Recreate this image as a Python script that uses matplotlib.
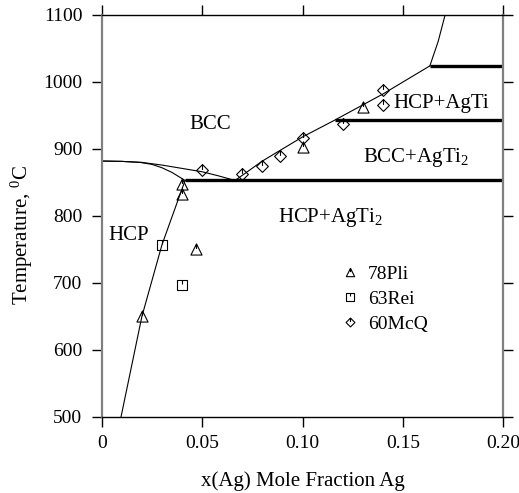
import matplotlib
matplotlib.use("Agg")
import matplotlib.pyplot as plt
from matplotlib.path import Path
import numpy as np

plt.rcParams['font.family'] = ['Liberation Serif', 'DejaVu Serif']
plt.rcParams['mathtext.fontset'] = 'custom'
plt.rcParams['mathtext.rm'] = 'Liberation Serif'
plt.rcParams['mathtext.it'] = 'Liberation Serif:italic'

# ---- phase boundaries ----
hcp_bcc_upper_x = [0.0, 0.010, 0.020, 0.030, 0.040, 0.050, 0.058, 0.0664]
hcp_bcc_upper_t = [882, 881.5, 880, 876, 871, 866, 860, 853]
hcp_bcc_lower_x = [0.0, 0.010, 0.019, 0.025, 0.030, 0.035, 0.0415]
hcp_bcc_lower_t = [882, 881.5, 880, 877, 872, 865, 853]
hcp_solvus_x = [0.0415, 0.030, 0.020, 0.0096]
hcp_solvus_t = [853, 757, 650, 500]
bcc_right_x = [0.0664, 0.080, 0.100, 0.116, 0.140, 0.1634]
bcc_right_t = [853, 882, 918, 943, 982, 1024]
steep_x = [0.1634, 0.1675, 0.171]
steep_t = [1024, 1060, 1100]
eutectoid_x = [0.0415, 0.20]
eutectoid_t = [853, 853]
mid_x = [0.116, 0.20]
mid_t = [943, 943]
upper_x = [0.1634, 0.20]
upper_t = [1024, 1024]

# ---- experimental data ----
pli_x = [0.020, 0.040, 0.040, 0.047, 0.100, 0.130]
pli_t = [650, 833, 848, 750, 903, 963]
rei_x = [0.030, 0.040]
rei_t = [757, 697]
mcq_x = [0.050, 0.070, 0.080, 0.089, 0.100, 0.120, 0.140, 0.140]
mcq_t = [868, 863, 875, 890, 916, 938, 965, 988]

xticks = [0, 0.05, 0.10, 0.15, 0.20]
xticklabels = ['0', '0.05', '0.10', '0.15', '0.20']
yticks = [500, 600, 700, 800, 900, 1000, 1100]

# markers with small tick from top vertex
tri = Path([(0, 1), (-1, -1), (1, -1), (0, 1), (0, 1), (0, 0.1)],
           [Path.MOVETO, Path.LINETO, Path.LINETO, Path.CLOSEPOLY, Path.MOVETO, Path.LINETO])
sq = Path([(-1, -1), (1, -1), (1, 1), (-1, 1), (-1, -1), (0, 1), (0, 0.2)],
          [Path.MOVETO, Path.LINETO, Path.LINETO, Path.LINETO, Path.CLOSEPOLY, Path.MOVETO, Path.LINETO])
dia = Path([(0, 1), (-1, 0), (0, -1), (1, 0), (0, 1), (0, 1), (0, 0.1)],
           [Path.MOVETO, Path.LINETO, Path.LINETO, Path.LINETO, Path.CLOSEPOLY, Path.MOVETO, Path.LINETO])

fig = plt.figure(figsize=(5.19, 4.93), dpi=100)
ax = fig.add_axes([0.196, 0.1542, 0.7738, 0.8154])

thin = 0.8
thick = 2.4
ax.plot(hcp_bcc_upper_x, hcp_bcc_upper_t, color='black', lw=thin)
ax.plot(hcp_bcc_lower_x, hcp_bcc_lower_t, color='black', lw=thin)
ax.plot(hcp_solvus_x, hcp_solvus_t, color='black', lw=thin)
ax.plot(bcc_right_x, bcc_right_t, color='black', lw=thin)
ax.plot(steep_x, steep_t, color='black', lw=thin)
for xs, ts in [(eutectoid_x, eutectoid_t), (mid_x, mid_t), (upper_x, upper_t)]:
    ax.plot(xs, ts, color='black', lw=thick, solid_capstyle='butt')

h1, = ax.plot(pli_x, pli_t, ls='none', marker=tri, ms=8, mfc='none', mec='black', mew=0.8, label='78Pli')
h2, = ax.plot(rei_x, rei_t, ls='none', marker=sq, ms=7.5, mfc='none', mec='black', mew=0.8, label='63Rei')
h3, = ax.plot(mcq_x, mcq_t, ls='none', marker=dia, ms=8.5, mfc='none', mec='black', mew=0.8, label='60McQ')

ax.legend(handles=[h1, h2, h3], loc='upper left', bbox_to_anchor=(0.595, 0.378),
          frameon=False, fontsize=14, markerscale=0.75, handlelength=1.0,
          handletextpad=0.4, labelspacing=0.38, borderpad=0, borderaxespad=0)

fs = 15
ax.text(0.0435, 930, 'BCC', fontsize=fs, ha='left', va='baseline')
ax.text(0.145, 960.7, 'HCP+AgTi', fontsize=fs, ha='left', va='baseline')
ax.text(0.130, 881, 'BCC+AgTi$_2$', fontsize=fs, ha='left', va='baseline')
ax.text(0.0878, 791.5, 'HCP+AgTi$_2$', fontsize=fs, ha='left', va='baseline')
ax.text(0.0033, 764, 'HCP', fontsize=fs, ha='left', va='baseline')

ax.set_xlim(0, 0.20)
ax.set_ylim(500, 1100)
ax.set_xticks(xticks)
ax.set_xticklabels(xticklabels)
ax.set_yticks(yticks)
ax.tick_params(axis='both', which='both', direction='out', length=7, width=1,
               labelsize=14, top=True, right=True, pad=7)
ax.tick_params(axis='x', pad=6)

for s in ['left', 'right']:
    ax.spines[s].set_color('#808080')
    ax.spines[s].set_linewidth(1.6)
for s in ['top', 'bottom']:
    ax.spines[s].set_color('black')
    ax.spines[s].set_linewidth(1.0)

ax.set_xlabel('x(Ag) Mole Fraction Ag', fontsize=15, labelpad=14)
ax.set_ylabel('Temperature, $^0$C', fontsize=15)
ax.yaxis.set_label_coords(-0.165, 0.453)

fig.savefig('out.png', dpi=100)
